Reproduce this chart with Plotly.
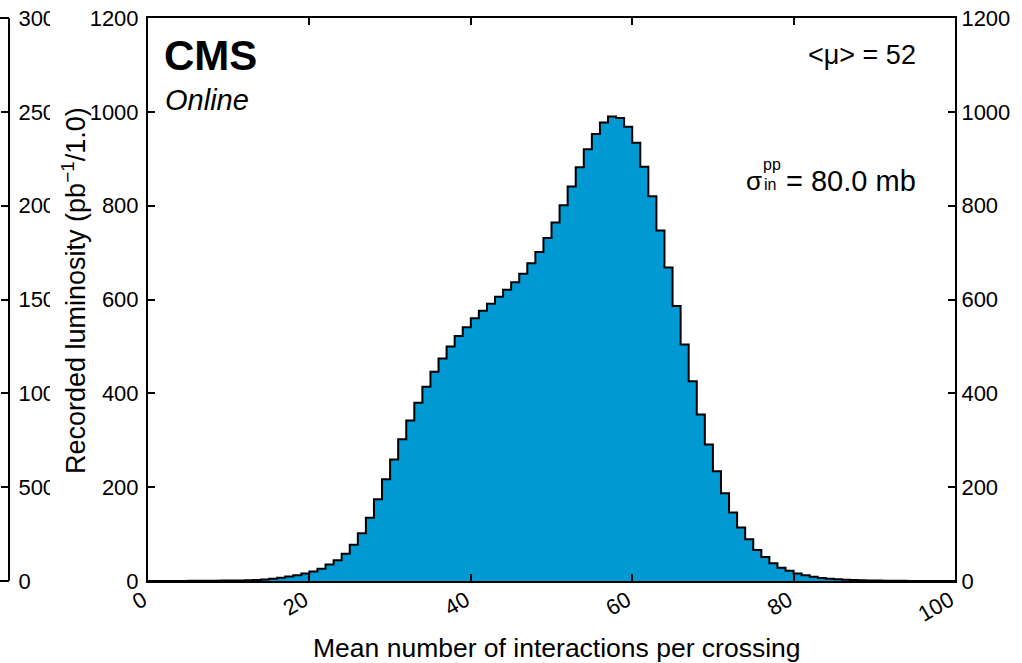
import plotly.graph_objects as go

# ---------------- data ----------------
bin_low_edges = list(range(0, 100))
recorded_lumi = [
    0.05, 0.1, 0.15, 0.2, 0.25, 0.3, 0.4, 0.5, 0.6, 0.8,
    1.0, 1.3, 1.7, 2.3, 3.2, 4.8, 7, 9.5, 12.5, 16,
    20.5, 26, 35, 44, 58, 77, 102, 135, 174, 217,
    259, 302, 342, 380, 414, 446, 474, 500, 522, 541,
    560, 576, 591, 606, 621, 637, 655, 677, 701, 731,
    764, 801, 841, 882, 920, 953, 977, 990, 987, 968,
    934, 883, 820, 747, 668, 586, 504, 426, 355, 291,
    234, 187, 146, 114, 89, 66, 51, 38, 28, 22,
    16, 12, 9, 6.5, 5, 3.5, 2.6, 1.9, 1.4, 1.0,
    0.8, 0.6, 0.45, 0.35, 0.25, 0.2, 0.15, 0.1, 0.08, 0.05,
]
x_tick_vals = [0, 20, 40, 60, 80, 100]
y_tick_vals = [0, 200, 400, 600, 800, 1000, 1200]
ghost_tick_vals = [0, 500, 1000, 1500, 2000, 2500, 3000]

# ---------------- geometry ----------------
W, H = 1022, 663
PL, PR, PT, PB = 148, 955, 18, 581
PAPER_W = PR          # margin left = 0
PAPER_H = PB - PT


def px(x):
    return x / PAPER_W


def py(y):
    return (PB - y) / PAPER_H


TXT = "Liberation Sans, Arial, Helvetica, sans-serif"
TICKF = dict(family=TXT, size=22, color="black")

xs = bin_low_edges + [bin_low_edges[-1] + 1]
ys = recorded_lumi + [recorded_lumi[-1]]

fig = go.Figure()
fig.add_trace(go.Scatter(
    x=xs, y=ys, mode="lines",
    line=dict(shape="hv", color="black", width=2),
    fill="tozeroy", fillcolor="#0099d4",
    hoverinfo="skip", showlegend=False,
))
# empty traces so the extra y axes are drawn
fig.add_trace(go.Scatter(x=[None], y=[None], yaxis="y2", showlegend=False))
fig.add_trace(go.Scatter(x=[None], y=[None], yaxis="y3", showlegend=False))

axis_common = dict(
    showgrid=False, zeroline=False, showline=True, linecolor="black",
    linewidth=2, ticks="inside", tickcolor="black", tickwidth=1.5,
    ticklen=7, tickfont=TICKF, automargin=False,
)

fig.update_layout(
    width=W, height=H,
    margin=dict(l=0, r=W - PR, t=PT, b=H - PB, pad=0, autoexpand=False),
    paper_bgcolor="white", plot_bgcolor="white",
    xaxis=dict(domain=[px(PL), 1], range=[0, 100], tickvals=x_tick_vals,
               tickangle=-30, mirror="ticks", ticklabelshift=-5,
               ticklabelstandoff=-4, **axis_common),
    yaxis=dict(range=[0, 1200], tickvals=y_tick_vals, mirror=True,
               ticklabelstandoff=3, **axis_common),
    yaxis2=dict(range=[0, 1200], tickvals=y_tick_vals, overlaying="y",
                side="right", anchor="x", **axis_common),
    yaxis3=dict(range=[0, 3000], tickvals=ghost_tick_vals, overlaying="y",
                side="right", anchor="free", position=px(9),
                ticklabelstandoff=4, **axis_common),
    shapes=[
        # clip the ghost axis labels
        dict(type="rect", xref="paper", yref="paper",
             x0=px(50), x1=px(87), y0=-0.2, y1=1.2,
             fillcolor="white", line=dict(width=0), layer="above"),
        dict(type="line", xref="paper", yref="paper",
             x0=0, x1=px(9), y0=1, y1=1,
             line=dict(color="black", width=2), layer="above"),
        dict(type="line", xref="paper", yref="paper",
             x0=0, x1=px(9), y0=0, y1=0,
             line=dict(color="black", width=2), layer="above"),
    ],
    annotations=[
        dict(text="<b>CMS</b>", x=px(162), y=py(56), xref="paper",
             yref="paper", xanchor="left", yanchor="middle",
             showarrow=False, font=dict(family=TXT, size=42, color="black")),
        dict(text="<i>Online</i>", x=px(163), y=py(100), xref="paper",
             yref="paper", xanchor="left", yanchor="middle",
             showarrow=False, font=dict(family=TXT, size=29, color="black")),
        dict(text="<μ> = 52", x=px(918), y=py(55), xref="paper",
             yref="paper", xanchor="right", yanchor="middle",
             showarrow=False, font=dict(family=TXT, size=27, color="black")),
        dict(text="σ", x=px(744), y=py(181), xref="paper", yref="paper",
             xanchor="left", yanchor="middle", showarrow=False,
             font=dict(family=TXT, size=26, color="black")),
        dict(text="pp", x=px(761), y=py(164), xref="paper", yref="paper",
             xanchor="left", yanchor="middle", showarrow=False,
             font=dict(family=TXT, size=16, color="black")),
        dict(text="in", x=px(762), y=py(184), xref="paper", yref="paper",
             xanchor="left", yanchor="middle", showarrow=False,
             font=dict(family=TXT, size=16, color="black")),
        dict(text="= 80.0 mb", x=px(918), y=py(181), xref="paper",
             yref="paper", xanchor="right", yanchor="middle",
             showarrow=False, font=dict(family=TXT, size=29, color="black")),
        # axis titles
        dict(text="Mean number of interactions per crossing",
             x=px(557), y=py(648), xref="paper", yref="paper",
             xanchor="center", yanchor="middle", showarrow=False,
             font=dict(family=TXT, size=26.5, color="black")),
        dict(text="Recorded luminosity (pb<sup>−1</sup>/1.0)",
             x=px(74), y=py(291), xref="paper", yref="paper",
             xanchor="center", yanchor="middle", textangle=-90,
             showarrow=False, font=dict(family=TXT, size=27, color="black")),
        # ghost tick label of the neighbouring panel
        dict(text="100", x=px(5), y=py(584), xref="paper", yref="paper",
             xanchor="right", yanchor="top", textangle=-30,
             showarrow=False, font=TICKF),
    ],
)

fig.write_html("out.html")
